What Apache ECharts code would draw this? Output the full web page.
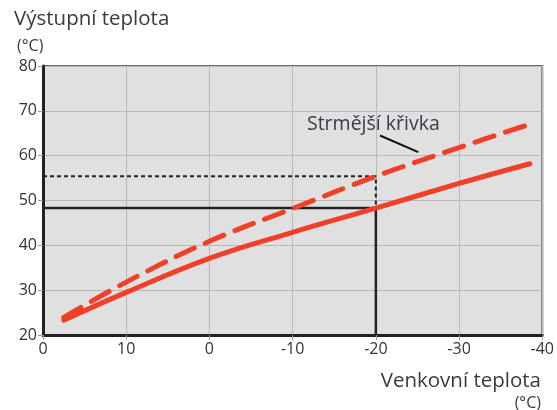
<!DOCTYPE html>
<html><head><meta charset="utf-8">
<script src="https://cdn.jsdelivr.net/npm/echarts@6/dist/echarts.min.js"></script>
<style>html,body{margin:0;padding:0;background:#fff}#c{width:557px;height:410px}</style>
</head><body><div id="c"></div>
<script>
var outdoor = [17.5, 10, 0, -10, -20, -30, -38.5];
var normalCurve = [23.3, 29.5, 37.1, 42.9, 48.3, 53.8, 58.2];
var steepCurve = [23.9, 31.8, 40.9, 48.2, 55.4, 61.8, 67.0];
var tickValues = [20, 10, 0, -10, -20, -30, -40];
var tickLabels = ['0', '10', '0', '-10', '-20', '-30', '-40'];
var refOutdoor = -20;
var refNormal = 48.3;
var refSteep = 55.4;

var chart = echarts.init(document.getElementById('c'));
var font = '"Open Sans", "Noto Sans", sans-serif';
function pairs(xs, ys){ return xs.map(function(x,i){return [x, ys[i]];}); }

chart.setOption({
  animation: false,
  textStyle: {fontFamily: font},
  grid: {left: 43, right: 12, top: 66, bottom: 75, show: true, backgroundColor: '#e0e0e0', borderColor: '#6a6a6a', borderWidth: 2},
  title: [
    {text: 'Výstupní teplota', left: 9, top: 4, textStyle: {fontFamily: font, fontSize: 20.5, fontWeight: 'normal', color: '#3a3a3a'}},
    {text: '(°C)', left: 12, top: 33, textStyle: {fontFamily: font, fontSize: 16, fontWeight: 'normal', color: '#3a3a3a'}},
    {text: 'Venkovní teplota', right: 11, top: 366, textStyle: {fontFamily: font, fontSize: 20.5, fontWeight: 'normal', color: '#3a3a3a'}},
    {text: '(°C)', right: 11, top: 390, textStyle: {fontFamily: font, fontSize: 16, fontWeight: 'normal', color: '#3a3a3a'}}
  ],
  xAxis: {
    type: 'value', min: -40, max: 20, interval: 10, inverse: true,
    axisLine: {show: true, onZero: false, lineStyle: {color: '#222', width: 3}},
    axisTick: {show: true, length: 5, lineStyle: {color: '#999'}},
    splitLine: {show: true, lineStyle: {color: '#b9b9b9', width: 1}},
    axisLabel: {fontSize: 16, color: '#333', margin: 6, fontFamily: font,
      formatter: function(v){ var i = tickValues.indexOf(v); return i >= 0 ? tickLabels[i] : ''; }}
  },
  yAxis: {
    type: 'value', min: 20, max: 80, interval: 10,
    axisLine: {show: true, onZero: false, lineStyle: {color: '#222', width: 3}},
    axisTick: {show: true, length: 5, lineStyle: {color: '#999'}},
    splitLine: {show: true, lineStyle: {color: '#b9b9b9', width: 1}},
    axisLabel: {fontSize: 16, color: '#333', margin: 6, fontFamily: font}
  },
  series: [
    {type: 'line', data: [[20, refNormal], [refOutdoor, refNormal], [refOutdoor, 20]], symbol: 'none',
     lineStyle: {color: '#222', width: 2.5}, z: 3},
    {type: 'line', data: [[20, refSteep], [refOutdoor, refSteep], [refOutdoor, refNormal]], symbol: 'none',
     lineStyle: {color: '#222', width: 2, type: [4, 3]}, z: 3},
    {type: 'line', data: pairs(outdoor, normalCurve), smooth: 0.4, symbol: 'none',
     lineStyle: {color: '#f0402a', width: 5, cap: 'round'}, z: 4},
    {type: 'line', data: pairs(outdoor, steepCurve), smooth: 0.4, symbol: 'none',
     lineStyle: {color: '#f0402a', width: 5, type: [20, 12], cap: 'round'}, z: 4}
  ]
});

var a = chart.convertToPixel({gridIndex: 0}, [-20.5, 64.5]);
var b = chart.convertToPixel({gridIndex: 0}, [-25.1, 60.8]);
var t = chart.convertToPixel({gridIndex: 0}, [-19.7, 67.0]);
chart.setOption({graphic: [
  {type: 'line', shape: {x1: a[0], y1: a[1], x2: b[0], y2: b[1]}, style: {stroke: '#111', lineWidth: 2}, z: 10},
  {type: 'text', x: t[0], y: t[1], style: {text: 'Strmější křivka', font: '19.5px ' + font, fill: '#3a3a4a', align: 'center', verticalAlign: 'middle'}, z: 10}
]});
</script></body></html>
